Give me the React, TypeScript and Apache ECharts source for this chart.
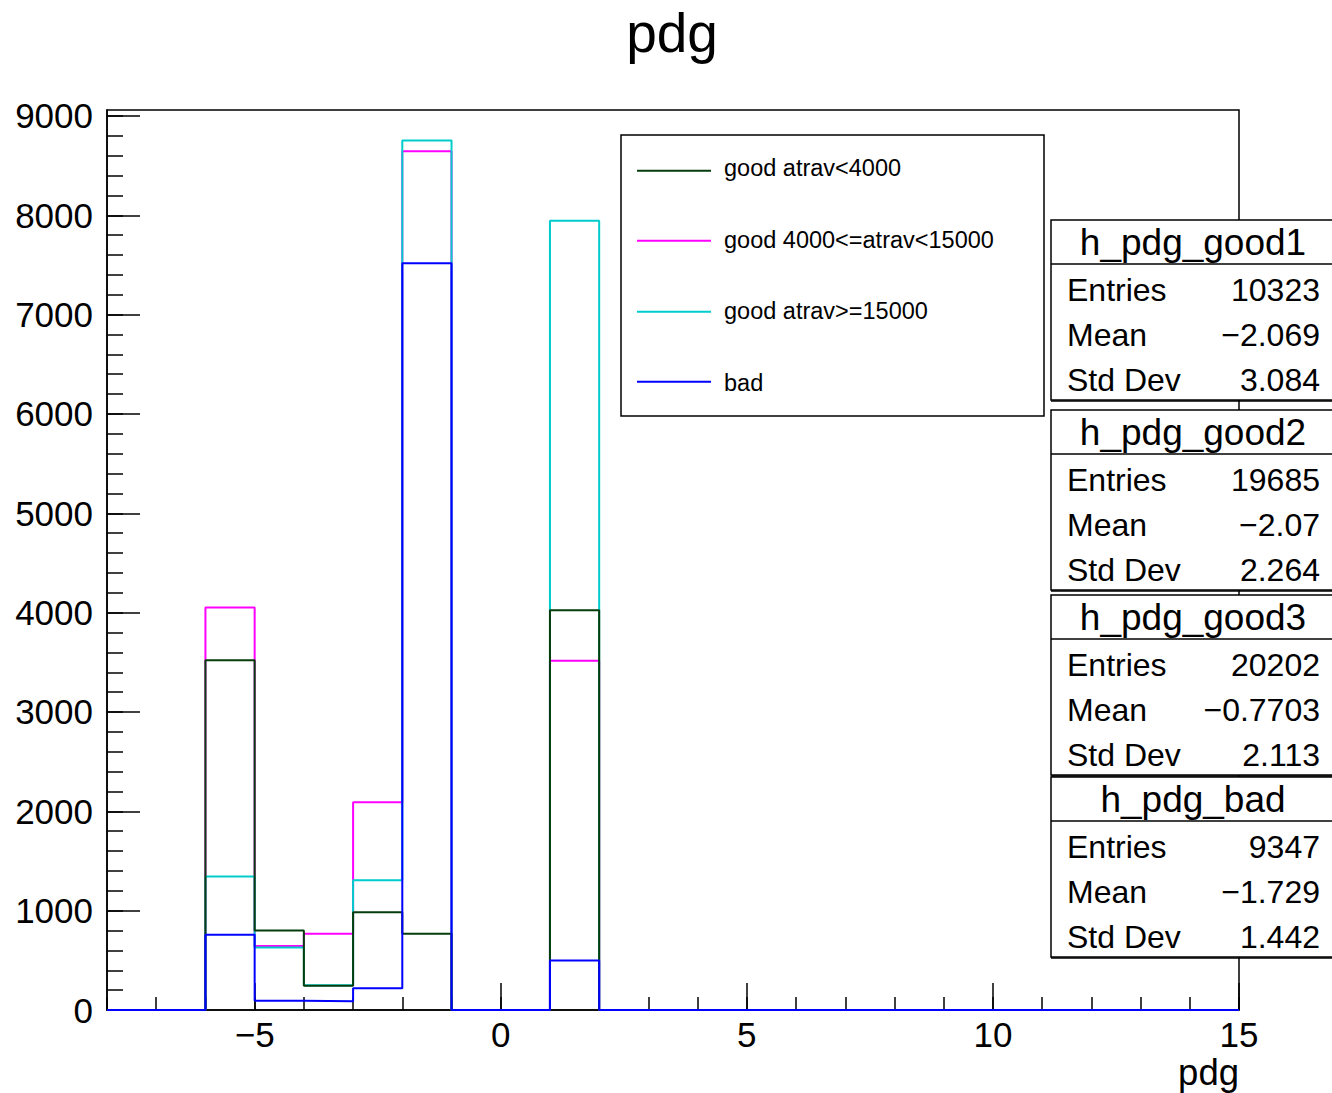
import React, { useEffect, useRef } from "react";
import * as echarts from "echarts";

// Histogram binning: 23 bins of width 1 from -8 to 15
const binLowEdges = [-8, -7, -6, -5, -4, -3, -2, -1, 0, 1, 2, 3, 4, 5, 6, 7, 8, 9, 10, 11, 12, 13, 14];
const binUpperEdge = 15;

const goodLow = [0, 0, 3520, 800, 245, 985, 767, 0, 0, 4023, 0, 0, 0, 0, 0, 0, 0, 0, 0, 0, 0, 0, 0];
const goodMid = [0, 0, 4053, 645, 767, 2092, 8645, 0, 0, 3515, 0, 0, 0, 0, 0, 0, 0, 0, 0, 0, 0, 0, 0];
const goodHigh = [0, 0, 1345, 630, 250, 1305, 8752, 0, 0, 7945, 0, 0, 0, 0, 0, 0, 0, 0, 0, 0, 0, 0, 0];
const bad = [0, 0, 757, 94, 87, 219, 7518, 0, 0, 498, 0, 0, 0, 0, 0, 0, 0, 0, 0, 0, 0, 0, 0];

const seriesNames = ["good atrav<4000", "good 4000<=atrav<15000", "good atrav>=15000", "bad"];
const seriesColors = ["#063d0c", "#ff00ff", "#00cccc", "#0000ff"];

const xMajorTicks = [-5, 0, 5, 10, 15];
const yMajorTicks = [0, 1000, 2000, 3000, 4000, 5000, 6000, 7000, 8000, 9000];
const yMinorTicks = [0, 200, 400, 600, 800, 1000, 1200, 1400, 1600, 1800, 2000, 2200, 2400, 2600, 2800, 3000, 3200, 3400, 3600, 3800, 4000, 4200, 4400, 4600, 4800, 5000, 5200, 5400, 5600, 5800, 6000, 6200, 6400, 6600, 6800, 7000, 7200, 7400, 7600, 7800, 8000, 8200, 8400, 8600, 8800, 9000];

const statNames = ["h_pdg_good1", "h_pdg_good2", "h_pdg_good3", "h_pdg_bad"];
const statEntries = ["10323", "19685", "20202", "9347"];
const statMeans = ["\u22122.069", "\u22122.07", "\u22120.7703", "\u22121.729"];
const statStdDevs = ["3.084", "2.264", "2.113", "1.442"];

const FONT = "'Liberation Sans', Arial, Helvetica, sans-serif";

function toSteps(values: number[]) {
  const pts: number[][] = values.map((v, i) => [binLowEdges[i], v]);
  pts.push([binUpperEdge, values[values.length - 1]]);
  return pts;
}

function fmtMinus(v: number) {
  return v < 0 ? "\u2212" + String(-v) : String(v);
}

export default function App() {
  const ref = useRef<HTMLDivElement>(null);

  useEffect(() => {
    document.body.style.margin = "0";
    if (!ref.current) return;
    const chart = echarts.init(ref.current, undefined, { renderer: "svg" });

    const allValues = [goodLow, goodMid, goodHigh, bad];
    const zOrder = [4, 2, 3, 5];

    const graphics: any[] = [];
    // Title
    graphics.push({
      type: "text",
      x: 672,
      y: 33,
      style: { text: "pdg", font: `55px ${FONT}`, fill: "#000", align: "center", verticalAlign: "middle" },
    });
    // Axis title
    graphics.push({
      type: "text",
      x: 1239,
      y: 1072,
      style: { text: "pdg", font: `36.5px ${FONT}`, fill: "#000", align: "right", verticalAlign: "middle" },
    });
    // Legend box
    graphics.push({
      type: "rect",
      shape: { x: 621, y: 135, width: 423, height: 281 },
      style: { fill: "#fff", stroke: "#000", lineWidth: 1.5 },
      z: 10,
    });
    const legendLineY = [170.7, 240.7, 311.7, 381.7];
    const legendTextY = [168, 240, 311, 383];
    seriesNames.forEach((name, i) => {
      graphics.push({
        type: "line",
        shape: { x1: 637, y1: legendLineY[i], x2: 711, y2: legendLineY[i] },
        style: { stroke: seriesColors[i], lineWidth: 2 },
        z: 11,
      });
      graphics.push({
        type: "text",
        x: 724,
        y: legendTextY[i],
        style: { text: name, font: `23.5px ${FONT}`, fill: "#000", align: "left", verticalAlign: "middle" },
        z: 11,
      });
    });
    // Stat boxes
    const boxTops = [220, 410, 595, 777];
    const boxHeight = 180;
    statNames.forEach((name, i) => {
      const top = boxTops[i];
      graphics.push({
        type: "rect",
        shape: { x: 1051, y: top, width: 300, height: boxHeight },
        style: { fill: "#fff", stroke: "#000", lineWidth: 1.5 },
        z: 10,
      });
      graphics.push({
        type: "line",
        shape: { x1: 1051, y1: top + boxHeight + 1, x2: 1340, y2: top + boxHeight + 1 },
        style: { stroke: "#000", lineWidth: 1.5 },
        z: 11,
      });
      graphics.push({
        type: "line",
        shape: { x1: 1051, y1: top + 44, x2: 1340, y2: top + 44 },
        style: { stroke: "#000", lineWidth: 1.5 },
        z: 11,
      });
      graphics.push({
        type: "text",
        x: 1193,
        y: top + 22,
        style: { text: name, font: `37px ${FONT}`, fill: "#000", align: "center", verticalAlign: "middle" },
        z: 11,
      });
      const rows = [
        ["Entries", statEntries[i]],
        ["Mean", statMeans[i]],
        ["Std Dev", statStdDevs[i]],
      ];
      rows.forEach((r, j) => {
        const y = top + 70 + j * 45;
        graphics.push({
          type: "text",
          x: 1067,
          y,
          style: { text: r[0], font: `32px ${FONT}`, fill: "#000", align: "left", verticalAlign: "middle" },
          z: 11,
        });
        graphics.push({
          type: "text",
          x: 1320,
          y,
          style: { text: r[1], font: `32px ${FONT}`, fill: "#000", align: "right", verticalAlign: "middle" },
          z: 11,
        });
      });
    });

    const option: any = {
      animation: false,
      backgroundColor: "#fff",
      textStyle: { fontFamily: FONT },
      grid: {
        left: 107,
        right: 93,
        top: 110,
        bottom: 83,
        show: true,
        borderColor: "#000",
        borderWidth: 1.5,
        backgroundColor: "transparent",
      },
      xAxis: [
        {
          type: "value",
          min: -8,
          max: 15,
          position: "bottom",
          axisLine: { show: true, onZero: false, lineStyle: { color: "#000", width: 1.5 } },
          axisTick: { show: true, inside: true, length: 27, customValues: xMajorTicks, lineStyle: { color: "#000", width: 1.5 } },
          axisLabel: {
            show: true,
            customValues: xMajorTicks,
            formatter: (v: number) => fmtMinus(v),
            fontSize: 35,
            color: "#000",
            fontFamily: FONT,
            margin: 7,
          },
          splitLine: { show: false },
        },
        {
          type: "value",
          min: -8,
          max: 15,
          interval: 1,
          position: "bottom",
          axisLine: { show: false, onZero: false },
          axisTick: { show: true, inside: true, length: 13, lineStyle: { color: "#000", width: 1.5 } },
          axisLabel: { show: false },
          splitLine: { show: false },
        },
      ],
      yAxis: [
        {
          type: "value",
          min: 0,
          max: 9060,
          position: "left",
          axisLine: { show: true, onZero: false, lineStyle: { color: "#000", width: 1.5 } },
          axisTick: { show: true, inside: true, length: 33, customValues: yMajorTicks, lineStyle: { color: "#000", width: 1.5 } },
          axisLabel: {
            show: true,
            customValues: yMajorTicks,
            formatter: (v: number) => String(v),
            fontSize: 35,
            color: "#000",
            fontFamily: FONT,
            margin: 14,
          },
          splitLine: { show: false },
        },
        {
          type: "value",
          min: 0,
          max: 9060,
          position: "left",
          axisLine: { show: false, onZero: false },
          axisTick: { show: true, inside: true, length: 16, customValues: yMinorTicks, lineStyle: { color: "#000", width: 1.5 } },
          axisLabel: { show: false },
          splitLine: { show: false },
        },
      ],
      series: allValues.map((vals, i) => ({
        name: seriesNames[i],
        type: "line",
        step: "end",
        xAxisIndex: 0,
        yAxisIndex: 0,
        data: toSteps(vals),
        showSymbol: false,
        symbol: "none",
        clip: false,
        z: zOrder[i],
        lineStyle: { color: seriesColors[i], width: 2 },
        itemStyle: { color: seriesColors[i] },
      })),
      graphic: graphics,
    };

    chart.setOption(option);
    return () => chart.dispose();
  }, []);

  return <div ref={ref} style={{ width: 1332, height: 1093 }} />;
}
